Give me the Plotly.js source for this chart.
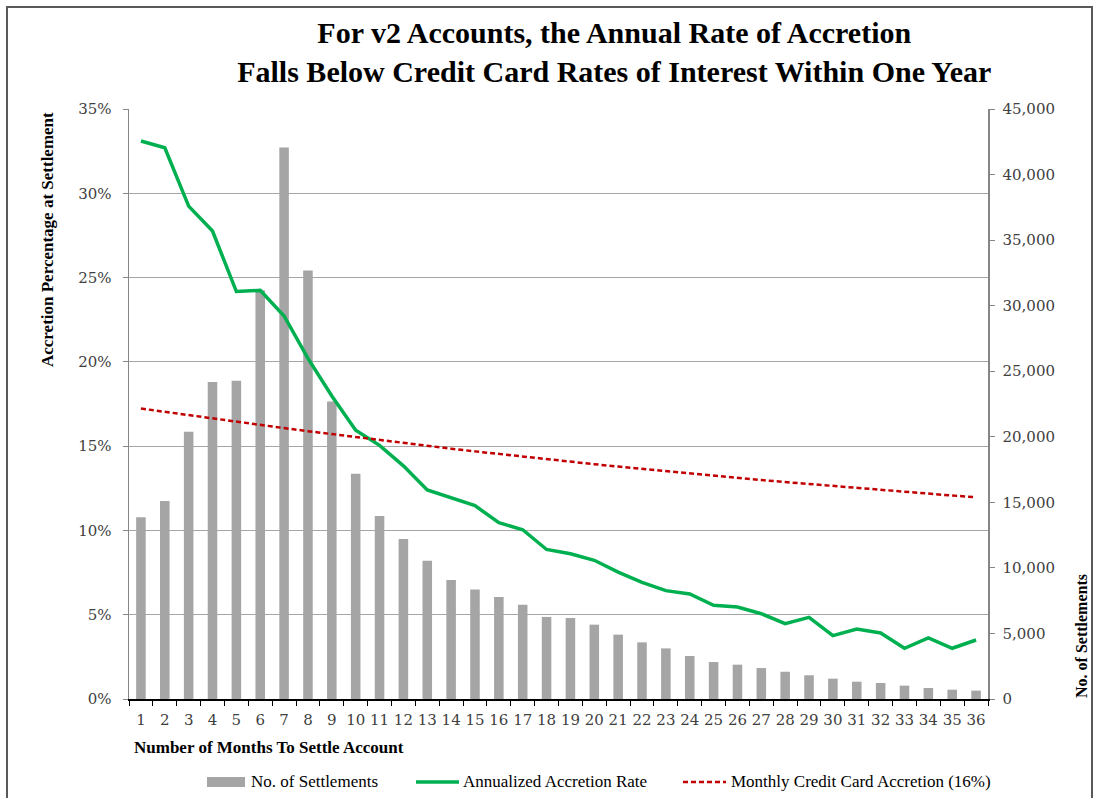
<!DOCTYPE html>
<html>
<head>
<meta charset="utf-8">
<script src="https://cdn.plot.ly/plotly-3.0.1.min.js"></script>
<style>
  html, body { margin: 0; padding: 0; background: #ffffff; }
  #wrap { position: relative; width: 1093px; height: 798px; overflow: hidden; }
  #chart { position: absolute; left: 0; top: 0; width: 1093px; height: 798px; }
  #frame { position: absolute; left: 6px; top: 6px; width: 1083px; height: 820px;
           border: 2px solid #595959; pointer-events: none; }
</style>
</head>
<body>
<div id="wrap">
  <div id="chart"></div>
  <div id="frame"></div>
</div>
<script>
// Month categories / tick labels
const months = ['1','2','3','4','5','6','7','8','9','10','11','12','13','14','15','16','17','18',
                '19','20','21','22','23','24','25','26','27','28','29','30','31','32','33','34','35','36'];

// No. of Settlements (right axis)
const settlements = [13870, 15100, 20380, 24180, 24270, 31170, 42060, 32680, 22700, 17180, 13960, 12210,
                     10550, 9070, 8350, 7780, 7180, 6260, 6180, 5670, 4910, 4320, 3860, 3280,
                     2820, 2620, 2360, 2080, 1810, 1550, 1320, 1220, 1020, 840, 710, 640];

// Annualized Accretion Rate (%)
const accretionRate = [33.1, 32.7, 29.24, 27.76, 24.17, 24.24, 22.72, 20.21, 17.98, 15.94, 15.05, 13.83,
                       12.40, 11.93, 11.47, 10.46, 10.04, 8.87, 8.62, 8.23, 7.53, 6.92, 6.43, 6.23,
                       5.56, 5.46, 5.06, 4.47, 4.84, 3.76, 4.15, 3.92, 3.01, 3.62, 3.01, 3.50];

// Monthly Credit Card Accretion (16%) (%)
const creditCard = [17.23, 17.03, 16.83, 16.64, 16.45, 16.26, 16.07, 15.89, 15.71, 15.53, 15.35, 15.18,
                    15.01, 14.85, 14.69, 14.53, 14.38, 14.23, 14.08, 13.93, 13.79, 13.65, 13.51, 13.38,
                    13.25, 13.12, 12.99, 12.87, 12.75, 12.63, 12.51, 12.40, 12.29, 12.18, 12.07, 11.97];

const seriesNames = ['No. of Settlements', 'Annualized Accretion Rate', 'Monthly Credit Card Accretion (16%)'];
const seriesColors = ['#a5a5a5', '#00b050', '#c00000'];

const serif = 'Liberation Serif, Times New Roman, serif';
const tickFont = { family: 'DejaVu Serif, serif', size: 15, color: '#404040' };

// plot-area geometry (pixels) used only to place the hand-drawn legend
const W = 1093, H = 798, L = 129, R = 105, T = 109, B = 99;
const pw = W - L - R, ph = H - T - B;
const px = v => (v - L) / pw;
const py = v => (H - B - v) / ph;

const traces = [
  {
    type: 'bar', name: seriesNames[0], x: months, y: settlements, yaxis: 'y',
    width: 0.4, marker: { color: seriesColors[0] }
  },
  {
    type: 'scatter', mode: 'lines', name: seriesNames[1], x: months, y: accretionRate, yaxis: 'y2',
    line: { color: seriesColors[1], width: 3.5 }
  },
  {
    type: 'scatter', mode: 'lines', name: seriesNames[2], x: months, y: creditCard, yaxis: 'y2',
    line: { color: seriesColors[2], width: 2.5, dash: '5px,3px' }
  }
];

const legendY = 782;
const shapes = [
  { type: 'rect', xref: 'paper', yref: 'paper', x0: px(207), x1: px(245), y0: py(777), y1: py(787),
    fillcolor: seriesColors[0], line: { width: 0 } },
  { type: 'line', xref: 'paper', yref: 'paper', x0: px(416), x1: px(459), y0: py(legendY), y1: py(legendY),
    line: { color: seriesColors[1], width: 3.5 } },
  { type: 'line', xref: 'paper', yref: 'paper', x0: px(683), x1: px(726), y0: py(legendY), y1: py(legendY),
    line: { color: seriesColors[2], width: 2.5, dash: '5px,3px' } }
];

const legendFont = { family: serif, size: 17, color: '#000000' };
const boldFont = { family: serif, size: 17, color: '#000000', weight: 'bold' };

const layout = {
  width: W, height: H,
  margin: { l: L, r: R, t: T, b: B },
  paper_bgcolor: '#ffffff', plot_bgcolor: '#ffffff',
  showlegend: false,
  title: {
    text: 'For v2 Accounts, the Annual Rate of Accretion<br>Falls Below Credit Card Rates of Interest Within One Year',
    font: { family: serif, size: 30, color: '#000000', weight: 'bold' },
    xref: 'container', x: 0.562, xanchor: 'center',
    yref: 'container', y: 1 - 43 / 798, yanchor: 'middle'
  },
  xaxis: {
    type: 'category', tickson: 'boundaries', ticks: 'outside', ticklen: 5, tickcolor: '#000000',
    showline: true, linecolor: '#000000', linewidth: 1.5, showgrid: false,
    tickfont: tickFont, tickangle: 0, ticklabelstandoff: 6
  },
  yaxis: {
    side: 'right', range: [0, 45000], dtick: 5000, tickformat: ',d',
    showgrid: false, zeroline: false, showline: true, linecolor: '#868686', linewidth: 1.5,
    ticks: 'outside', ticklen: 5, tickcolor: '#868686', tickfont: tickFont, ticklabelstandoff: 5
  },
  yaxis2: {
    overlaying: 'y', side: 'left', range: [0, 35], dtick: 5, ticksuffix: '%',
    showgrid: true, gridcolor: '#a6a6a6', gridwidth: 1, zeroline: false,
    showline: true, linecolor: '#868686', linewidth: 1.5,
    ticks: 'outside', ticklen: 5, tickcolor: '#868686', tickfont: tickFont, ticklabelstandoff: 8
  },
  shapes: shapes,
  annotations: [
    {
      text: 'Accretion Percentage at Settlement', xref: 'paper', yref: 'paper',
      x: px(47), y: py(240), xanchor: 'center', yanchor: 'middle', textangle: -90, showarrow: false,
      font: boldFont
    },
    {
      text: 'No. of Settlements', xref: 'paper', yref: 'paper',
      x: px(1081), y: py(636), xanchor: 'center', yanchor: 'middle', textangle: -90, showarrow: false,
      font: { family: serif, size: 16, color: '#000000', weight: 'bold' }
    },
    {
      text: 'Number of Months To Settle Account', xref: 'paper', yref: 'paper',
      x: px(132), y: py(747), xanchor: 'left', yanchor: 'middle', showarrow: false,
      font: boldFont
    },
    { text: seriesNames[0], xref: 'paper', yref: 'paper', x: px(249), y: py(legendY),
      xanchor: 'left', yanchor: 'middle', showarrow: false, font: legendFont },
    { text: seriesNames[1], xref: 'paper', yref: 'paper', x: px(461), y: py(legendY),
      xanchor: 'left', yanchor: 'middle', showarrow: false, font: legendFont },
    { text: seriesNames[2], xref: 'paper', yref: 'paper', x: px(729), y: py(legendY),
      xanchor: 'left', yanchor: 'middle', showarrow: false, font: legendFont }
  ]
};

Plotly.newPlot('chart', traces, layout, { displayModeBar: false, staticPlot: true });
</script>
</body>
</html>
